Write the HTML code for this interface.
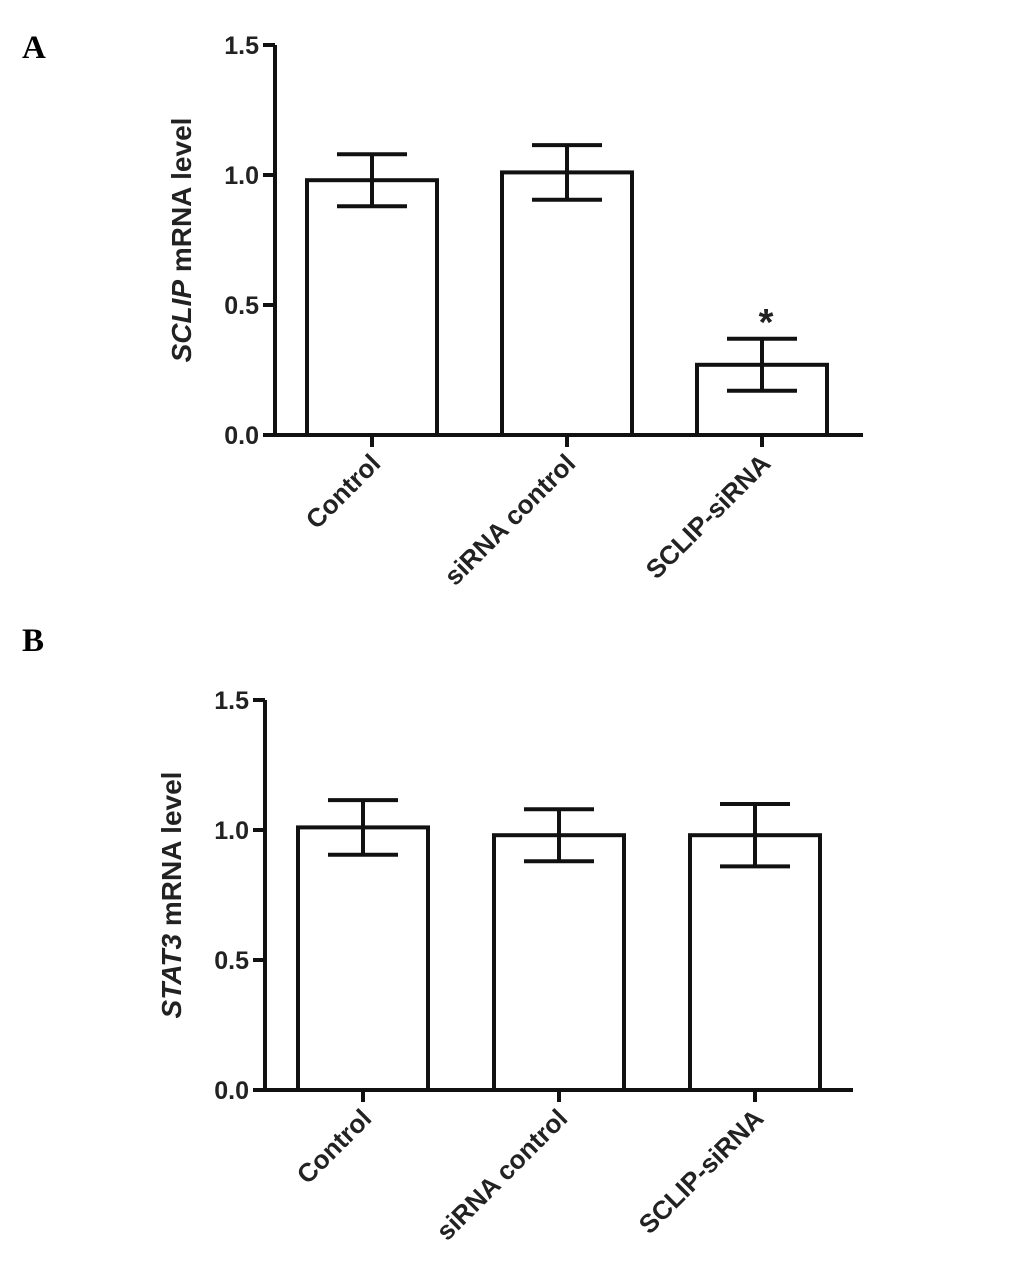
<!DOCTYPE html>
<html><head><meta charset="utf-8"><style>
body{margin:0;background:#fff;}
svg{display:block;font-family:"Liberation Sans",Arial,sans-serif;}
</style></head><body>
<svg id="s" width="1033" height="1274" viewBox="0 0 1033 1274">
<text x="22" y="58" font-family="Liberation Serif,serif" font-weight="bold" font-size="33">A</text>
<text x="22" y="651" font-family="Liberation Serif,serif" font-weight="bold" font-size="33">B</text>
</svg>
<script>
const categories=["Control","siRNA control","SCLIP-siRNA"];
const valuesA=[0.98,1.01,0.27];
const errA=[0.10,0.105,0.10];
const valuesB=[1.01,0.98,0.98];
const errB=[0.105,0.10,0.12];
const ticks=[0,0.5,1.0,1.5];
const tickLabels=["0.0","0.5","1.0","1.5"];
const sigA=["","","*"];
const NS="http://www.w3.org/2000/svg";
const svg=document.getElementById('s');
function mk(t,a,p){const e=document.createElementNS(NS,t);for(const k in a)e.setAttribute(k,a[k]);(p||svg).appendChild(e);return e;}
function panel(o){
  const g=mk('g',{});
  
  
  const y=v=>o.y0-(v/1.5)*(o.y0-o.y1);
  const x=i=>o.xs+i*o.step;
  const st={stroke:'#111','stroke-width':4,fill:'none'};
  const ax=mk('line',Object.assign({x1:o.ax,y1:o.y1,x2:o.ax,y2:o.y0},st),g);
  
  const xa=mk('line',Object.assign({x1:o.ax-2,y1:o.y0,x2:o.xe,y2:o.y0},st),g);
  
  ticks.forEach((t,i)=>{
    mk('line',Object.assign({x1:o.ax-12,y1:y(t),x2:o.ax,y2:y(t)},st),g);
    const tx=mk('text',{x:o.ax-16,y:y(t)+9,'text-anchor':'end','font-size':25,'font-weight':'bold',fill:'#222'},g);
    tx.textContent=tickLabels[i];
    
  });
  const t=mk('text',{transform:`translate(${o.ax-84},${(o.y0+o.y1)/2}) rotate(-90)`,'text-anchor':'middle','font-size':28,'font-weight':'bold',fill:'#222'},g);
  t.innerHTML=`<tspan font-style="italic">${o.gene}</tspan> mRNA level`;
  
  o.vals.forEach((v,i)=>{
    const cx=x(i);
    const r=mk('rect',Object.assign({x:cx-65,y:y(v),width:130,height:o.y0-y(v)},st),g);
    
    const e=o.err[i];
    mk('line',Object.assign({x1:cx,y1:y(v+e),x2:cx,y2:y(v-e)},st),g);
    mk('line',Object.assign({x1:cx-35,y1:y(v+e),x2:cx+35,y2:y(v+e)},st),g);
    mk('line',Object.assign({x1:cx-35,y1:y(v-e),x2:cx+35,y2:y(v-e)},st),g);
    mk('line',Object.assign({x1:cx,y1:o.y0,x2:cx,y2:o.y0+12},st),g);
    const l=mk('text',{transform:`translate(${cx+10},${o.y0+30}) rotate(-45)`,'text-anchor':'end','font-size':26,'font-weight':'bold',fill:'#222'},g);
    l.textContent=categories[i];
    
    if(o.sig&&o.sig[i]){const s=mk('text',{x:cx+4,y:y(v+e)-4,'text-anchor':'middle','font-size':38,'font-weight':'bold',fill:'#222'},g);s.textContent=o.sig[i];
      }
  });
}
panel({name:'panel-a-chart',ax:275,xe:863,y0:435,y1:45,xs:372,step:195,vals:valuesA,err:errA,gene:'SCLIP',sig:sigA});
panel({name:'panel-b-chart',ax:265,xe:853,y0:1090,y1:700,xs:363,step:196,vals:valuesB,err:errB,gene:'STAT3'});
</script>
</body></html>
